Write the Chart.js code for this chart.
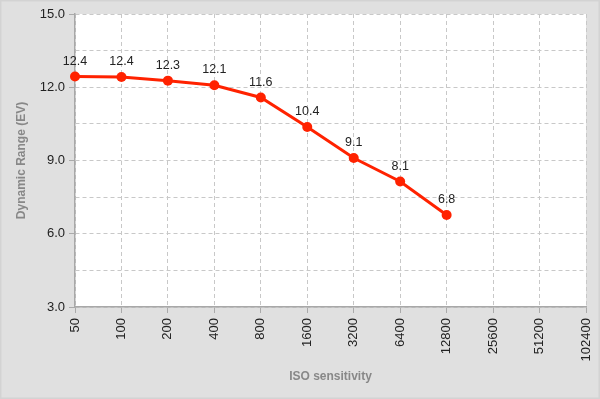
<!DOCTYPE html>
<html>
<head>
<meta charset="utf-8">
<script src="https://cdn.jsdelivr.net/npm/chart.js@4/dist/chart.umd.min.js"></script>
<style>
  body { margin: 0; background: #e0e0e0; }
  canvas { display: block; }
</style>
</head>
<body>
<canvas id="dr_chart" width="600" height="399"></canvas>
<script>
// ISO steps on the x axis
const iso_labels = ['50', '100', '200', '400', '800', '1600', '3200', '6400', '12800', '25600', '51200', '102400'];
// measured dynamic range (EV), nothing measured above 12800
const dr_values = [12.44, 12.42, 12.27, 12.08, 11.58, 10.37, 9.1, 8.14, 6.77];
const y_min = 3;
const y_max = 15;

const bgPlugin = {
    id: 'bg',
    beforeDraw(chart){
        const ctx = chart.ctx;
        const a = chart.chartArea;
        ctx.save();
        ctx.fillStyle = '#e0e0e0';
        ctx.fillRect(0, 0, chart.width, chart.height);
        ctx.strokeStyle = '#d3d3d3';
        ctx.lineWidth = 3;
        ctx.strokeRect(0, 0, chart.width, chart.height);
        ctx.fillStyle = '#ffffff';
        ctx.fillRect(a.left, a.top, a.right - a.left, a.bottom - a.top);
        ctx.restore();
    }
};

// value labels above each point
const valueLabels = {
    id: 'valueLabels',
    afterDatasetsDraw(chart){
        const ctx = chart.ctx;
        const meta = chart.getDatasetMeta(0);
        ctx.save();
        ctx.font = '12.5px "Liberation Sans", Arial, sans-serif';
        ctx.fillStyle = '#222';
        ctx.textAlign = 'center';
        ctx.textBaseline = 'bottom';
        meta.data.forEach(function(pt, i){
            ctx.fillText(dr_values[i].toFixed(1), pt.x, pt.y - 9);
        });
        ctx.restore();
    }
};

const ctx = document.getElementById('dr_chart').getContext('2d');
var chart = new Chart(ctx, {
    type: 'line',
    data: {
        labels: iso_labels,
        datasets: [{
            data: dr_values,
            borderColor: '#ff2200',
            backgroundColor: '#ff2200',
            borderWidth: 3,
            pointRadius: 5,
            pointBackgroundColor: '#ff2200',
            pointBorderWidth: 0,
            tension: 0
        }]
    },
    options: {
        responsive: false,
        animation: false,
        layout: {
            padding: { top: 14, right: 14, left: 0, bottom: 0 }
        },
        plugins: {
            legend: { display: false },
            tooltip: { enabled: false }
        },
        scales: {
            x: {
                offset: false,
                afterFit(scale){
                    scale.height = 92;
                    scale.paddingLeft = 0;
                    scale.paddingRight = 0;
                },
                grid: {
                    color: '#c8c8c8',
                    tickLength: 6,
                    tickColor: '#aaa',
                    tickBorderDash: []
                },
                border: { color: '#a8a8a8', width: 1.5, dash: [4, 3] },
                ticks: {
                    minRotation: 90,
                    maxRotation: 90,
                    autoSkip: false,
                    padding: 5,
                    color: '#222',
                    font: { size: 13, family: '"Liberation Sans", Arial, sans-serif' }
                },
                title: {
                    display: true,
                    text: 'ISO sensitivity',
                    color: '#888',
                    padding: { top: 0, bottom: 15 },
                    font: { size: 12, weight: 'bold', family: '"Liberation Sans", Arial, sans-serif' }
                }
            },
            y: {
                min: y_min,
                max: y_max,
                afterFit(scale){ scale.width = 75; },
                grid: {
                    color: '#c8c8c8',
                    tickLength: 6,
                    tickColor: function(c){ return c.tick && c.tick.value % 3 === 0 ? '#aaa' : 'rgba(0,0,0,0)'; },
                    tickBorderDash: []
                },
                border: { color: '#a8a8a8', width: 1.5, dash: [4, 3] },
                ticks: {
                    stepSize: 1.5,
                    padding: 4,
                    color: '#222',
                    font: { size: 13, family: '"Liberation Sans", Arial, sans-serif' },
                    callback: function(v){ return v % 3 === 0 ? v.toFixed(1) : ''; }
                },
                title: {
                    display: true,
                    text: 'Dynamic Range (EV)',
                    color: '#888',
                    padding: { top: 14, bottom: 0 },
                    font: { size: 12, weight: 'bold', family: '"Liberation Sans", Arial, sans-serif' }
                }
            }
        }
    },
    plugins: [bgPlugin, valueLabels]
});
</script>
</body>
</html>
